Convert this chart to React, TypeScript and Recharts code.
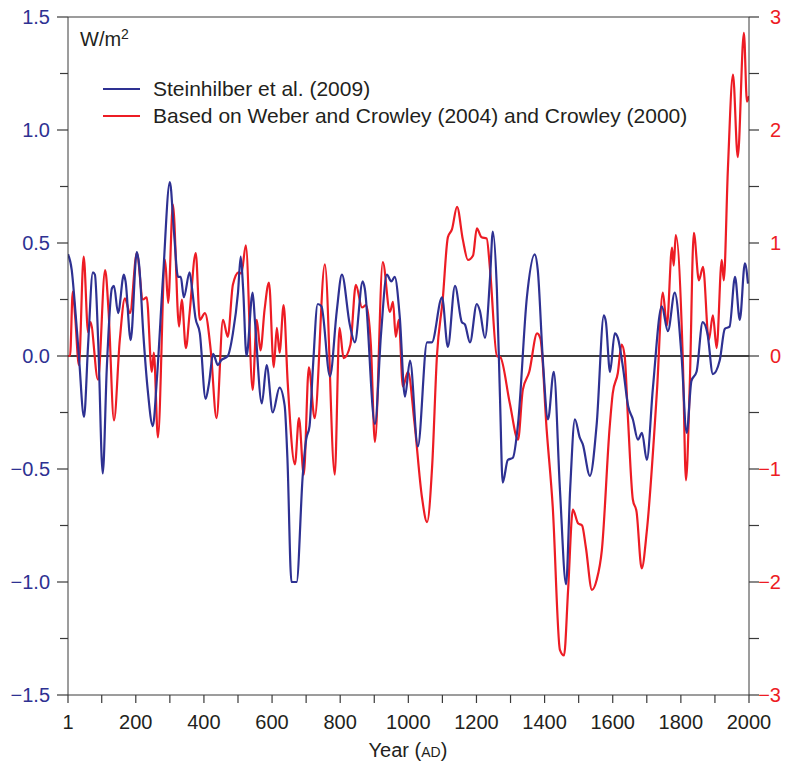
import React from 'react';
import { LineChart, Line, XAxis, YAxis, ReferenceLine } from 'recharts';

// Steinhilber et al. (2009), W/m2 (left axis)
const blueYears = [
  1, 12, 20, 33, 48, 60, 74, 80, 90, 103, 115, 130, 136, 148, 165, 170, 185, 203, 210, 222,
  235, 250, 262, 280, 300, 312, 324, 332, 341, 358, 365, 375, 388, 405, 415, 427, 441, 450, 470, 485,
  500, 508, 515, 525, 543, 550, 570, 584, 602, 622, 637, 645, 657, 672, 690, 700, 710, 720, 734, 745,
  770, 790, 805, 828, 843, 866, 872, 902, 920, 937, 950, 960, 975, 990, 1005, 1028, 1055, 1069, 1099, 1116,
  1137, 1157, 1166, 1181, 1201, 1210, 1225, 1240, 1248, 1260, 1269, 1277, 1292, 1307, 1322, 1348, 1371, 1380, 1395, 1410,
  1427, 1445, 1463, 1475, 1489, 1503, 1512, 1533, 1553, 1574, 1580, 1592, 1606, 1615, 1630, 1645, 1659, 1674, 1686, 1700,
  1718, 1744, 1762, 1782, 1802, 1817, 1831, 1846, 1864, 1878, 1894, 1914, 1929, 1943, 1959, 1973, 1988, 1997,
];
const blueValues = [
  0.45, 0.38, 0.25, 0.0, -0.27, 0.05, 0.37, 0.36, 0.05, -0.52, -0.05, 0.30, 0.31, 0.19, 0.36, 0.33, 0.07, 0.46, 0.40, 0.10,
  -0.15, -0.31, -0.10, 0.35, 0.77, 0.55, 0.35, 0.35, 0.26, 0.37, 0.30, 0.17, 0.10, -0.19, -0.12, 0.01, -0.04, -0.02, 0.0, 0.10,
  0.28, 0.44, 0.30, 0.0, 0.28, 0.15, -0.21, -0.04, -0.25, -0.14, -0.22, -0.45, -1.0, -1.0, -0.53, -0.37, -0.31, -0.05, 0.23, 0.22,
  -0.09, 0.20, 0.36, 0.14, 0.06, 0.33, 0.30, -0.30, 0.10, 0.36, 0.33, 0.35, 0.17, -0.18, -0.02, -0.40, 0.06, 0.06, 0.26, 0.04,
  0.31, 0.15, 0.14, 0.06, 0.23, 0.20, 0.08, 0.35, 0.55, 0.29, -0.18, -0.56, -0.46, -0.45, -0.30, 0.26, 0.45, 0.38, -0.02, -0.28,
  -0.07, -0.59, -1.01, -0.59, -0.28, -0.36, -0.39, -0.53, -0.30, 0.18, 0.15, -0.07, 0.10, 0.08, -0.05, -0.22, -0.28, -0.37, -0.34, -0.46,
  -0.14, 0.22, 0.11, 0.28, 0.0, -0.34, -0.11, -0.07, 0.15, 0.10, -0.08, -0.02, 0.12, 0.13, 0.35, 0.16, 0.41, 0.32,
];

// Weber and Crowley (2004) / Crowley (2000), right axis units
const redYears = [
  1, 7, 15, 22, 33, 47, 60, 67, 89, 110, 120, 136, 153, 168, 183, 203, 221, 232, 247, 253,
  265, 286, 295, 309, 327, 335, 347, 358, 376, 388, 403, 420, 437, 456, 470, 485, 502, 510, 523, 543,
  555, 566, 578, 591, 605, 614, 622, 634, 646, 667, 679, 693, 708, 725, 755, 784, 798, 810, 830, 846,
  864, 876, 890, 902, 925, 946, 955, 963, 972, 984, 999, 1018, 1040, 1055, 1070, 1084, 1101, 1116, 1128, 1143,
  1160, 1175, 1190, 1201, 1215, 1230, 1240, 1260, 1270, 1298, 1322, 1336, 1355, 1378, 1388, 1406, 1424, 1445, 1457, 1469,
  1483, 1498, 1510, 1521, 1539, 1553, 1568, 1591, 1600, 1615, 1626, 1635, 1645, 1659, 1670, 1685, 1700, 1730, 1747, 1759,
  1774, 1779, 1785, 1806, 1815, 1826, 1838, 1853, 1865, 1882, 1894, 1905, 1920, 1926, 1938, 1953, 1967, 1985, 1994, 2000,
];
const redValues = [
  0.0, 0.0, 0.57, 0.35, -0.08, 0.88, 0.21, 0.30, -0.21, 0.76, 0.40, -0.57, 0.14, 0.51, 0.38, 0.91, 0.50, 0.52, -0.14, 0.03,
  -0.72, 0.85, 0.47, 1.34, 0.26, 0.50, 0.07, 0.38, 0.91, 0.32, 0.38, 0.05, -0.55, 0.32, 0.17, 0.63, 0.74, 0.73, 0.98, -0.30,
  0.32, 0.05, 0.41, 0.65, -0.10, 0.25, 0.03, 0.45, -0.24, -0.96, -0.55, -1.05, -0.10, -0.55, 0.81, -1.05, 0.25, -0.02, 0.10, 0.63,
  0.43, 0.45, 0.10, -0.76, 0.83, 0.39, 0.48, 0.17, 0.32, -0.27, -0.14, -0.59, -1.25, -1.47, -0.97, 0.0, 0.50, 1.05, 1.12, 1.32,
  1.03, 0.85, 0.89, 1.13, 1.05, 1.04, 0.76, 0.0, -0.01, -0.42, -0.74, -0.30, -0.14, 0.20, 0.15, -0.65, -1.34, -2.60, -2.65, -2.07,
  -1.36, -1.48, -1.50, -1.69, -2.07, -1.98, -1.72, -0.63, -0.33, -0.15, 0.10, 0.0, -0.57, -1.27, -1.38, -1.88, -1.55, -0.30, 0.56, 0.27,
  0.96, 0.80, 1.07, -0.06, -1.10, -0.27, 1.09, 0.67, 0.79, 0.14, 0.36, 0.07, 0.85, 0.67, 1.65, 2.49, 1.76, 2.86, 2.25, 2.30,
];

const leftTicks = [-1.5, -1.25, -1, -0.75, -0.5, -0.25, 0, 0.25, 0.5, 0.75, 1, 1.25, 1.5];
const rightTicks = [-3, -2.5, -2, -1.5, -1, -0.5, 0, 0.5, 1, 1.5, 2, 2.5, 3];
const yearTicks = [1, 100, 200, 300, 400, 500, 600, 700, 800, 900, 1000, 1100, 1200, 1300, 1400, 1500, 1600, 1700, 1800, 1900, 2000];

const steinhilber = blueYears.map((year, i) => ({ year, value: blueValues[i] }));
const weberCrowley = redYears.map((year, i) => ({ year, value: redValues[i] }));

const BLUE = '#2e3192';
const RED = '#ed1c24';
const AXIS = '#3a3a3a';
const FONT = '"Liberation Sans", Arial, Helvetica, sans-serif';

const minus = (s: string) => s.replace('-', '\u2212');

const LeftTick = (props: any) => {
  const { x, y, payload } = props;
  const v = payload.value;
  const major = Math.abs(v * 2 - Math.round(v * 2)) < 1e-6;
  return (
    <g>
      <line x1={x} x2={x - (major ? 11 : 8)} y1={y} y2={y} stroke={AXIS} strokeWidth={1.2} />
      {major && (
        <text x={x - 18} y={y} textAnchor="end" dominantBaseline="central" fill={BLUE} fontSize={20} fontFamily={FONT}>
          {minus(v.toFixed(1))}
        </text>
      )}
    </g>
  );
};

const RightTick = (props: any) => {
  const { x, y, payload } = props;
  const v = payload.value;
  const major = Number.isInteger(v);
  return (
    <g>
      <line x1={x} x2={x + 10} y1={y} y2={y} stroke={AXIS} strokeWidth={1.2} />
      {major && (
        <text x={x + 32} y={y} textAnchor="end" dominantBaseline="central" fill={RED} fontSize={20} fontFamily={FONT}>
          {minus(String(v))}
        </text>
      )}
    </g>
  );
};

const YearTick = (props: any) => {
  const { x, y, payload } = props;
  const v = payload.value;
  const show = v === 1 || v % 200 === 0;
  return (
    <g>
      <line x1={x} x2={x} y1={y} y2={y + 8} stroke={AXIS} strokeWidth={1.2} />
      {show && (
        <text x={x} y={y + 27} textAnchor="middle" dominantBaseline="central" fill="#231f20" fontSize={20} fontFamily={FONT}>
          {v}
        </text>
      )}
    </g>
  );
};

export default function App() {
  return (
    <div style={{ position: 'absolute', left: 0, top: 0, width: 794, height: 770, background: '#fff' }}>
      <LineChart width={794} height={770} margin={{ top: 17, right: 0, bottom: 0, left: 0 }}>
        <XAxis
          dataKey="year"
          type="number"
          domain={[1, 2000]}
          ticks={yearTicks}
          interval={0}
          tickSize={0}
          tickMargin={0}
          tick={<YearTick />}
          height={75}
          stroke={AXIS}
          allowDataOverflow
        />
        <YAxis
          yAxisId="left"
          domain={[-1.5, 1.5]}
          ticks={leftTicks}
          interval={0}
          tickSize={0}
          tickMargin={0}
          tick={<LeftTick />}
          width={68}
          stroke={AXIS}
          allowDataOverflow
        />
        <YAxis
          yAxisId="right"
          orientation="right"
          domain={[-3, 3]}
          ticks={rightTicks}
          interval={0}
          tickSize={0}
          tickMargin={0}
          tick={<RightTick />}
          width={45}
          stroke={AXIS}
          allowDataOverflow
        />
        <ReferenceLine yAxisId="left" y={1.5} stroke={AXIS} strokeWidth={1.2} />
        <ReferenceLine yAxisId="left" y={0} stroke="#000" strokeWidth={1.3} />
        <Line
          data={weberCrowley}
          yAxisId="right"
          dataKey="value"
          type="monotone"
          stroke={RED}
          strokeWidth={2.2}
          dot={false}
          isAnimationActive={false}
        />
        <Line
          data={steinhilber}
          yAxisId="left"
          dataKey="value"
          type="monotone"
          stroke={BLUE}
          strokeWidth={2.2}
          dot={false}
          isAnimationActive={false}
        />
      </LineChart>
      <svg width={794} height={770} style={{ position: 'absolute', left: 0, top: 0, pointerEvents: 'none' }}>
        <text x={80} y={46} fontSize={20} fontFamily={FONT} fill="#231f20">
          W/m<tspan fontSize={14} dy={-7}>2</tspan>
        </text>
        <line x1={103} x2={140} y1={89} y2={89} stroke={BLUE} strokeWidth={2.2} />
        <text x={153} y={96} fontSize={21} fontFamily={FONT} fill="#231f20">Steinhilber et al. (2009)</text>
        <line x1={103} x2={140} y1={116} y2={116} stroke={RED} strokeWidth={2.2} />
        <text x={153} y={123} fontSize={21} fontFamily={FONT} fill="#231f20">
          Based on Weber and Crowley (2004) and Crowley (2000)
        </text>
        <text x={408} y={757} textAnchor="middle" fontSize={20} fontFamily={FONT} fill="#231f20">
          Year (<tspan fontSize={14}>AD</tspan>)
        </text>
      </svg>
    </div>
  );
}
